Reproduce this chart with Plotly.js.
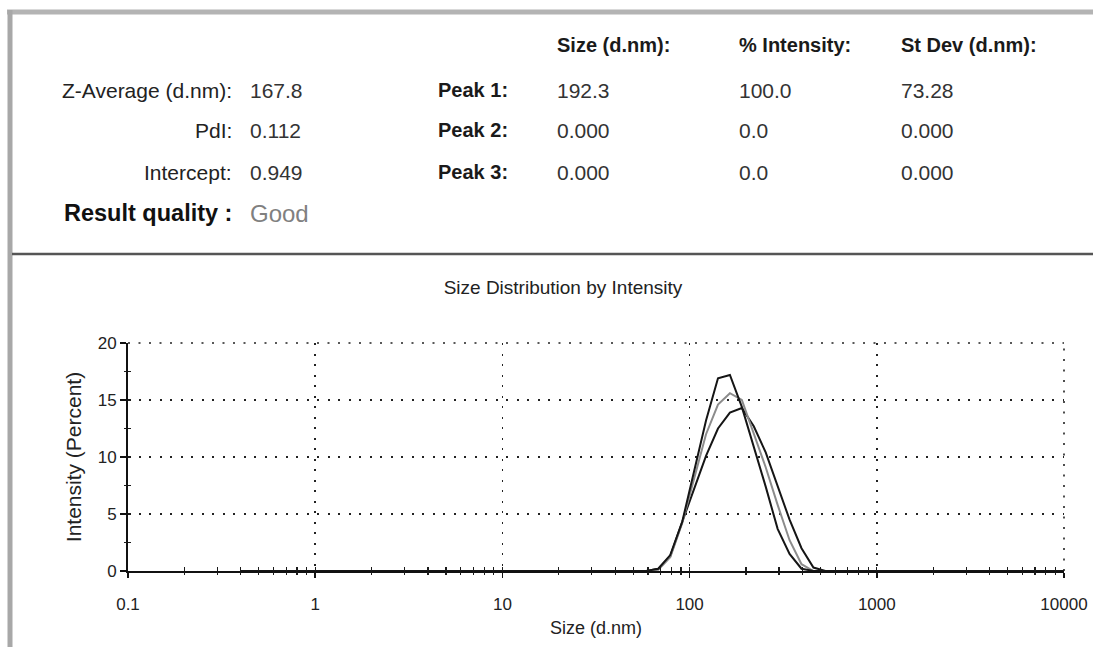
<!DOCTYPE html>
<html>
<head>
<meta charset="utf-8">
<script src="https://cdn.plot.ly/plotly-3.0.1.min.js"></script>
<style>
  html, body { margin: 0; padding: 0; background: #ffffff; }
  #chart { width: 1093px; height: 647px; }
</style>
</head>
<body>
<div id="chart"></div>
<script>
// Size classes (d.nm), log spaced from 0.4 to 10000
const sizeNm = [
  0.4, 0.4632, 0.5365, 0.6213, 0.7195, 0.8332, 0.9649, 1.117, 1.294, 1.499,
  1.736, 2.010, 2.328, 2.696, 3.122, 3.615, 4.187, 4.849, 5.615, 6.503,
  7.531, 8.721, 10.10, 11.70, 13.54, 15.69, 18.17, 21.04, 24.36, 28.21,
  32.67, 37.84, 43.82, 50.75, 58.77, 68.06, 78.82, 91.28, 105.7, 122.4,
  141.8, 164.2, 190.1, 220.2, 255.0, 295.3, 342.0, 396.1, 458.7, 531.2,
  615.1, 712.4, 825.0, 955.4, 1106, 1281, 1484, 1718, 1990, 2305,
  2669, 3091, 3580, 4145, 4801, 5560, 6439, 7456, 8635, 10000
];

// Intensity (%) per size class for the three records
const intensityRun1 = [
  0, 0, 0, 0, 0, 0, 0, 0, 0, 0,
  0, 0, 0, 0, 0, 0, 0, 0, 0, 0,
  0, 0, 0, 0, 0, 0, 0, 0, 0, 0,
  0, 0, 0, 0, 0, 0.2, 1.4, 4.3, 8.9, 13.2,
  16.9, 17.2, 14.4, 11.0, 7.4, 3.7, 1.5, 0.2, 0, 0,
  0, 0, 0, 0, 0, 0, 0, 0, 0, 0,
  0, 0, 0, 0, 0, 0, 0, 0, 0, 0
];
const intensityRun2 = [
  0, 0, 0, 0, 0, 0, 0, 0, 0, 0,
  0, 0, 0, 0, 0, 0, 0, 0, 0, 0,
  0, 0, 0, 0, 0, 0, 0, 0, 0, 0,
  0, 0, 0, 0, 0, 0.1, 1.2, 4.2, 8.2, 12.0,
  14.6, 15.6, 15.0, 12.0, 9.1, 5.8, 2.7, 0.6, 0, 0,
  0, 0, 0, 0, 0, 0, 0, 0, 0, 0,
  0, 0, 0, 0, 0, 0, 0, 0, 0, 0
];
const intensityRun3 = [
  0, 0, 0, 0, 0, 0, 0, 0, 0, 0,
  0, 0, 0, 0, 0, 0, 0, 0, 0, 0,
  0, 0, 0, 0, 0, 0, 0, 0, 0, 0,
  0, 0, 0, 0, 0, 0.2, 1.3, 4.3, 7.2, 10.1,
  12.5, 13.9, 14.3, 12.7, 10.4, 7.5, 4.5, 2.0, 0.3, 0,
  0, 0, 0, 0, 0, 0, 0, 0, 0, 0,
  0, 0, 0, 0, 0, 0, 0, 0, 0, 0
];

// Summary table
const summaryLabels = ["Z-Average (d.nm):", "PdI:", "Intercept:"];
const summaryValues = ["167.8", "0.112", "0.949"];
const qualityLabel = "Result quality :";
const qualityValue = "Good";
const peakLabels = ["Peak 1:", "Peak 2:", "Peak 3:"];
const peakHeaders = ["Size (d.nm):", "% Intensity:", "St Dev (d.nm):"];
const peakSize = ["192.3", "0.000", "0.000"];
const peakIntensity = ["100.0", "0.0", "0.0"];
const peakStDev = ["73.28", "0.000", "0.000"];

const xTickVals = [0.1, 1, 10, 100, 1000, 10000];
const xTickText = ["0.1", "1", "10", "100", "1000", "10000"];
const yTickVals = [0, 5, 10, 15, 20];
const yMinorVals = [2.5, 7.5, 12.5, 17.5];

// Minor ticks at 2..9 within each decade of the size axis
const xMinorVals = [];
for (let d = 0; d < xTickVals.length - 1; d++) {
  for (let m = 2; m <= 9; m++) xMinorVals.push(xTickVals[d] * m);
}

// Plot area in page pixels
const W = 1093, H = 647;
const PL = 128, PR = 1064, PT = 343, PB = 571;
const px = x => (x - PL) / (PR - PL);
const py = y => (PB - y) / (PB - PT);

const FONT = "Liberation Sans, Arial, sans-serif";
const rowY = [90, 130, 172];

const annotations = [];
function addText(text, x, y, opts) {
  annotations.push(Object.assign({
    text: text, x: px(x), y: py(y), xref: "paper", yref: "paper",
    showarrow: false, xanchor: "left", yanchor: "middle",
    font: { family: FONT, size: 21, color: "#222222" }
  }, opts || {}));
}

const valueFont = { family: FONT, size: 21, color: "#333333" };
const boldFont = { family: FONT, size: 20, color: "#1a1a1a" };

summaryLabels.forEach((t, i) => addText(t, 234, rowY[i], { xanchor: "right" }));
summaryValues.forEach((t, i) => addText(t, 248, rowY[i], { font: valueFont }));
addText("<b>" + qualityLabel + "</b>", 234, 213, { xanchor: "right", font: { family: FONT, size: 23.5, color: "#111111" } });
addText(qualityValue, 248, 214, { font: { family: FONT, size: 24, color: "#808080" } });

peakLabels.forEach((t, i) => addText("<b>" + t + "</b>", 436, rowY[i], { font: boldFont }));
const colX = [555, 737, 899];
peakHeaders.forEach((t, i) => addText("<b>" + t + "</b>", colX[i], 45, { font: boldFont }));
[peakSize, peakIntensity, peakStDev].forEach((col, c) =>
  col.forEach((t, i) => addText(t, colX[c], rowY[i], { font: valueFont }))
);

// Panel frame, separator, and the dotted grid lines on the plot's top and right edges
const gridDash = "2px,8.5px";
const shapes = [
  { type: "line", xref: "paper", yref: "paper", x0: px(7), x1: px(W), y0: py(12), y1: py(12),
    line: { color: "#b4b4b4", width: 5 } },
  { type: "line", xref: "paper", yref: "paper", x0: px(10), x1: px(10), y0: py(10), y1: py(H),
    line: { color: "#a8a8a8", width: 5 } },
  { type: "line", xref: "paper", yref: "paper", x0: px(12), x1: px(W), y0: py(254), y1: py(254),
    line: { color: "#555555", width: 2.5 } },
  { type: "line", xref: "paper", yref: "paper", x0: 0, x1: 1, y0: 1, y1: 1,
    line: { color: "#222222", width: 1.6, dash: gridDash } },
  { type: "line", xref: "paper", yref: "paper", x0: 1, x1: 1, y0: 0, y1: 1,
    line: { color: "#222222", width: 1.6, dash: gridDash } }
];

const lineStyle = (color) => ({ color: color, width: 2, shape: "linear" });
// Empty placeholders so the tick-only overlay axes get drawn
const axisHolder = (xa, ya) => ({ x: [], y: [], type: "scatter", mode: "lines", xaxis: xa, yaxis: ya, hoverinfo: "skip", showlegend: false });
const traces = [
  { x: sizeNm, y: intensityRun3, type: "scatter", mode: "lines", line: lineStyle("#151515"), name: "Record 3" },
  { x: sizeNm, y: intensityRun2, type: "scatter", mode: "lines", line: lineStyle("#8c8c8c"), name: "Record 2" },
  { x: sizeNm, y: intensityRun1, type: "scatter", mode: "lines", line: lineStyle("#151515"), name: "Record 1" },
  axisHolder("x2", "y"), axisHolder("x3", "y"), axisHolder("x", "y2"), axisHolder("x", "y3")
];

// Bare tick-only axes laid over the main ones, so ticks cross the axis lines
const tickOnly = {
  showticklabels: false, showgrid: false, showline: false, zeroline: false,
  tickmode: "array", tickcolor: "#1a1a1a", tickwidth: 1.2, fixedrange: true
};

const layout = {
  width: W, height: H,
  margin: { l: PL, r: W - PR, t: PT, b: H - PB, pad: 0 },
  paper_bgcolor: "#ffffff", plot_bgcolor: "#ffffff",
  showlegend: false,
  font: { family: FONT, color: "#222222" },
  title: {
    text: "Size Distribution by Intensity",
    font: { family: FONT, size: 19, color: "#222222" },
    x: 563 / W, xref: "container", xanchor: "center",
    y: 1 - 287 / H, yref: "container", yanchor: "middle"
  },
  xaxis: {
    type: "log", range: [-1, 4],
    tickmode: "array", tickvals: xTickVals, ticktext: xTickText,
    ticks: "outside", ticklen: 5, tickwidth: 1.5, tickcolor: "#111111",
    ticklabelstandoff: 12,
    tickfont: { family: FONT, size: 17, color: "#222222" },
    showline: true, linecolor: "#111111", linewidth: 2,
    showgrid: true, gridcolor: "#222222", gridwidth: 1.6, griddash: gridDash,
    zeroline: false,
    title: { text: "Size (d.nm)", font: { family: FONT, size: 18, color: "#222222" }, standoff: 8 }
  },
  xaxis2: Object.assign({}, tickOnly, {
    type: "log", range: [-1, 4], overlaying: "x", anchor: "y", side: "bottom",
    tickvals: xMinorVals.concat(xTickVals), ticks: "inside", ticklen: 4
  }),
  xaxis3: Object.assign({}, tickOnly, {
    type: "log", range: [-1, 4], overlaying: "x", anchor: "y", side: "bottom",
    tickvals: xMinorVals, ticks: "outside", ticklen: 3
  }),
  yaxis: {
    range: [0, 20],
    tickmode: "array", tickvals: yTickVals,
    ticks: "outside", ticklen: 6, tickwidth: 1.5, tickcolor: "#111111",
    tickfont: { family: FONT, size: 17, color: "#222222" },
    showline: true, linecolor: "#111111", linewidth: 2,
    showgrid: true, gridcolor: "#222222", gridwidth: 1.6, griddash: gridDash,
    zeroline: false,
    title: { text: "Intensity (Percent)", font: { family: FONT, size: 21, color: "#222222" }, standoff: 10 }
  },
  yaxis2: Object.assign({}, tickOnly, {
    range: [0, 20], overlaying: "y", anchor: "x", side: "left",
    tickvals: yMinorVals.concat(yTickVals), ticks: "inside", ticklen: 3
  }),
  yaxis3: Object.assign({}, tickOnly, {
    range: [0, 20], overlaying: "y", anchor: "x", side: "left",
    tickvals: yMinorVals, ticks: "outside", ticklen: 3
  }),
  annotations: annotations,
  shapes: shapes
};

Plotly.newPlot("chart", traces, layout, { displayModeBar: false, staticPlot: true });
</script>
</body>
</html>
